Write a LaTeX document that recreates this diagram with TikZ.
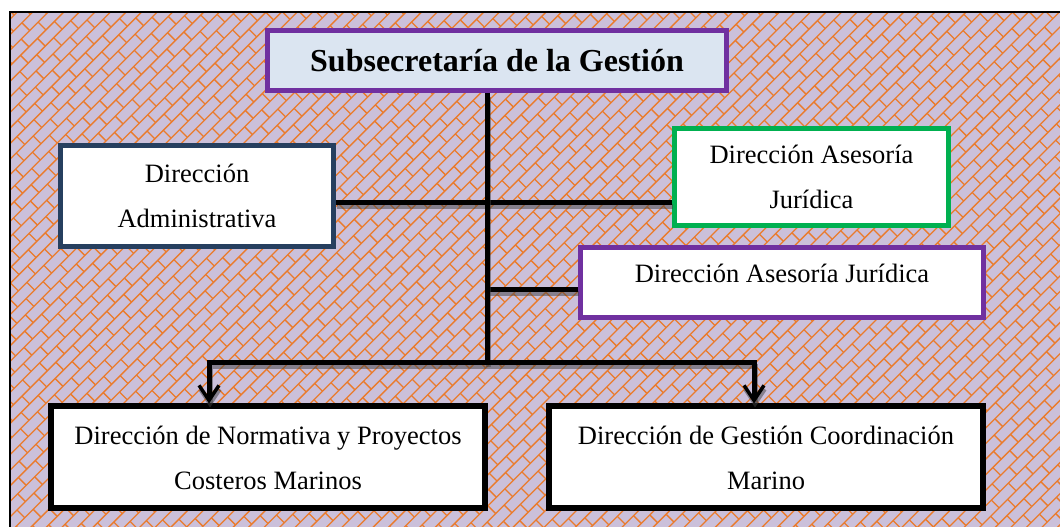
\documentclass[tikz,border=0pt]{standalone}
\usepackage{fontspec}
\setmainfont{Liberation Serif}
\usetikzlibrary{arrows.meta}
\definecolor{bgc}{HTML}{CBC0DA}
\definecolor{brickc}{HTML}{EA7B2C}
\definecolor{purp}{HTML}{7030A0}
\definecolor{grn}{HTML}{00B050}
\definecolor{dblue}{HTML}{263F5F}
\definecolor{lblue}{HTML}{DBE5F1}
\tikzset{
  box/.style={draw, rectangle, inner sep=0pt, fill=white, align=center,
    font=\fontsize{26.5}{45}\selectfont},
  conn/.style={draw=black, line width=5pt, line join=miter,
    preaction={draw=black!75, opacity=0.5, line width=5pt, transform canvas={shift={(1pt,-4pt)}}}},
  barb/.tip={Straight Barb[length=15pt, width=20pt, line width=3.5pt]}
}
\begin{document}
\begin{tikzpicture}[x=1pt,y=1pt]
\useasboundingbox (0,0) rectangle (1060,527);
% background pattern
\begin{scope}
\clip (10,0) rectangle (1060,515);
\fill[bgc] (10,0) rectangle (1060,515);
\begin{scope}[rotate=45, brick/.style={draw=brickc, line width=1.3pt}]
\foreach \k in {-69,...,33} \draw[brick] (0,\k*11) -- (1130,\k*11);
\foreach \m in {0,...,48} {
  \draw[brick, dash pattern=on 11pt off 11pt] (\m*24,-759) -- (\m*24,374);
  \draw[brick, dash pattern=on 11pt off 11pt, dash phase=11pt] (\m*24+12,-759) -- (\m*24+12,374);
}
\end{scope}
\end{scope}
\draw[line width=2pt] (10,0) -- (10,515) -- (1060,515);
% nodes
\node[box, draw=purp, fill=lblue, line width=5pt, minimum width=459pt, minimum height=60pt,
  font=\fontsize{32}{38}\selectfont\bfseries] (sub) at (497,466.5) {Subsecretaría de la Gestión};
\node[box, draw=dblue, line width=5pt, minimum width=273pt, minimum height=101pt] (adm) at (197,331)
  {Dirección\\Administrativa};
\node[box, draw=grn, line width=5pt, minimum width=274pt, minimum height=97pt] (jur1) at (811.5,350)
  {Dirección Asesoría\\Jurídica};
\node[box, draw=purp, line width=5pt, minimum width=403pt, minimum height=70pt,
  text height=20pt, text depth=20pt] (jur2) at (782,244.3) {Dirección Asesoría Jurídica};
\node[box, draw=black, line width=6pt, minimum width=434pt, minimum height=102pt] (bl) at (268,69.5)
  {Dirección de Normativa y Proyectos\\Costeros Marinos};
\node[box, draw=black, line width=6pt, minimum width=434pt, minimum height=102pt] (br) at (766,69.5)
  {Dirección de Gestión Coordinación\\Marino};
% connectors
\coordinate (j) at (487,164);
\coordinate (h1) at (487,324.5);
\coordinate (h2) at (487,237);
\coordinate (bk1) at (209,164);
\coordinate (bk2) at (754,164);
\draw[conn] (adm.east |- h1) -- (jur1.west |- h1);
\draw[conn] (h2) -- (jur2.west |- h2);
\draw[conn] (sub.south -| j) -- (j);
\draw[conn, barb-barb] (bk1 |- bl.north) -- (bk1) -- (bk2) -- (bk2 |- br.north);
\end{tikzpicture}
\end{document}
